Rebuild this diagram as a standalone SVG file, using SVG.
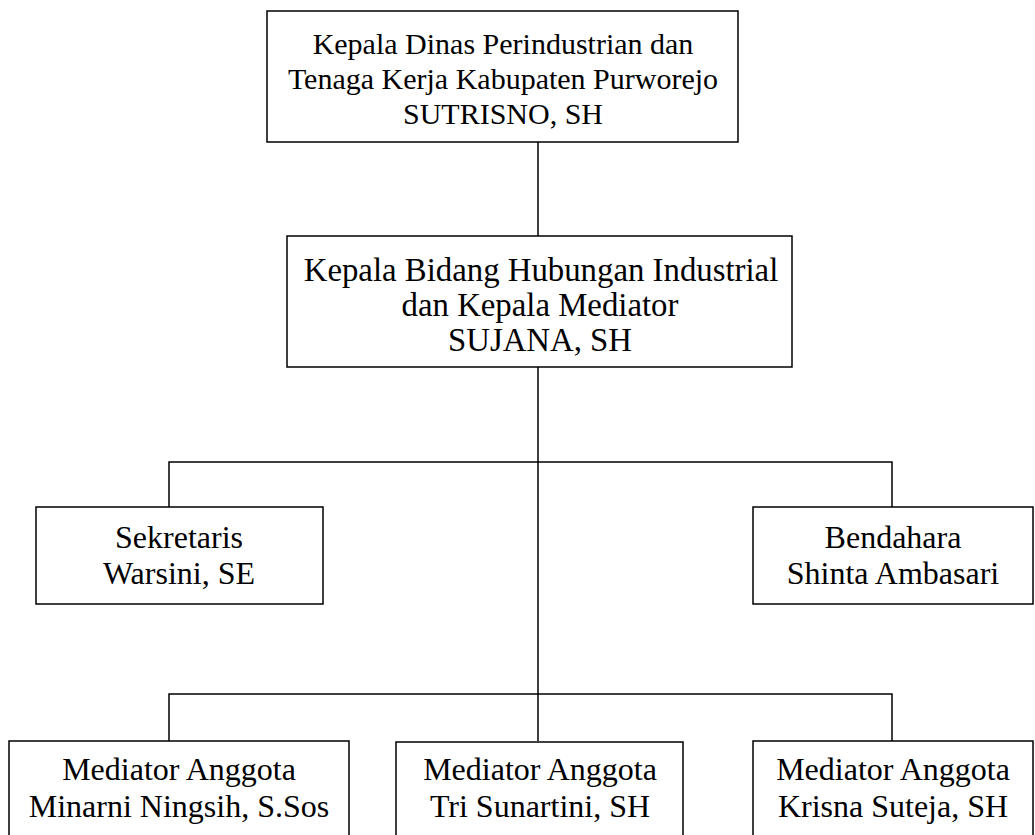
<svg xmlns="http://www.w3.org/2000/svg" width="1035" height="835" viewBox="0 0 1035 835">
<style>
.box{fill:#fff;stroke:#000;stroke-width:1.5}
.ln{fill:none;stroke:#000;stroke-width:1.5}
text{font-family:"Liberation Serif","Times New Roman",serif;font-size:32px;fill:#000;text-anchor:middle}
.t30{font-size:30px}
.t33{font-size:32.8px}
</style>
<rect width="1035" height="835" fill="#fff"/>
<g id="connectors">
<path class="ln" d="M538 142V236"/>
<path class="ln" d="M538 367V741"/>
<path class="ln" d="M169 507V462H892V507"/>
<path class="ln" d="M169 741V694H892V741"/>
</g>
<g id="kepala-dinas">
<rect class="box" x="267" y="11" width="471" height="131"/>
<text class="t30" x="503" y="54">Kepala Dinas Perindustrian dan</text>
<text class="t30" x="503" y="89">Tenaga Kerja Kabupaten Purworejo</text>
<text class="t30" x="503" y="124">SUTRISNO, SH</text>
</g>
<g id="kepala-bidang">
<rect class="box" x="287" y="236" width="505" height="131"/>
<text class="t33" x="541" y="281">Kepala Bidang Hubungan Industrial</text>
<text class="t33" x="540" y="316">dan Kepala Mediator</text>
<text class="t33" x="540" y="351">SUJANA, SH</text>
</g>
<g id="sekretaris">
<rect class="box" x="36" y="507" width="287" height="97"/>
<text x="179" y="548">Sekretaris</text>
<text x="179" y="584">Warsini, SE</text>
</g>
<g id="bendahara">
<rect class="box" x="753" y="507" width="280" height="97"/>
<text x="893" y="548">Bendahara</text>
<text x="893" y="584">Shinta Ambasari</text>
</g>
<g id="mediator-1">
<rect class="box" x="9" y="741" width="340" height="110"/>
<text x="179" y="780">Mediator Anggota</text>
<text x="179" y="817">Minarni Ningsih, S.Sos</text>
</g>
<g id="mediator-2">
<rect class="box" x="396" y="742" width="287" height="110"/>
<text x="540" y="780">Mediator Anggota</text>
<text x="540" y="817">Tri Sunartini, SH</text>
</g>
<g id="mediator-3">
<rect class="box" x="753" y="741" width="280" height="110"/>
<text x="893" y="780">Mediator Anggota</text>
<text x="893" y="817">Krisna Suteja, SH</text>
</g>
</svg>
